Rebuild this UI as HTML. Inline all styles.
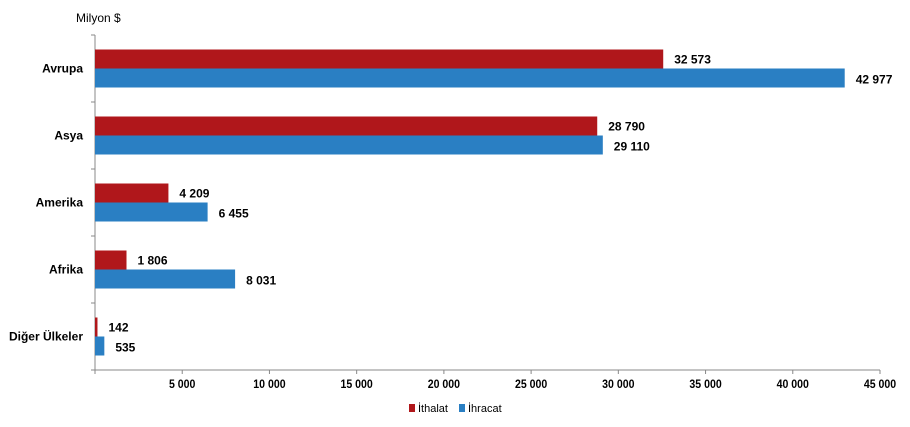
<!DOCTYPE html>
<html><head><meta charset="utf-8"><style>
body{margin:0;background:#fff;width:910px;height:422px;overflow:hidden}
text{font-family:"Liberation Sans",Arial,sans-serif}
</style></head><body>
<svg id="c" width="910" height="422" xmlns="http://www.w3.org/2000/svg">
<text x="76" y="22" font-size="12" fill="#000">Milyon $</text>
<g id="plot"></g>
<g>
<rect x="409" y="404" width="6" height="8" fill="#b0171b"/>
<text x="418" y="412" font-size="11">İthalat</text>
<rect x="459" y="404" width="6" height="8" fill="#2a7fc3"/>
<text x="468" y="412" font-size="11">İhracat</text>
</g>
</svg>
<script>
const categories=["Avrupa","Asya","Amerika","Afrika","Diğer Ülkeler"];
const ithalat=[32573,28790,4209,1806,142];
const ihracat=[42977,29110,6455,8031,535];
const ticks=[5000,10000,15000,20000,25000,30000,35000,40000,45000];
const NS="http://www.w3.org/2000/svg";
const g=document.getElementById("plot");
const x0=95,x1=880,xmax=45000,yTop=35,band=67,bh=19;
const X=v=>x0+v/xmax*(x1-x0);
const fmt=v=>String(v).replace(/\B(?=(\d{3})+(?!\d))/g," ");
function el(t,a){const e=document.createElementNS(NS,t);for(const k in a)e.setAttribute(k,a[k]);g.appendChild(e);return e;}
const yBot=yTop+band*categories.length;
let ax=el("line",{x1:x0,y1:yTop,x2:x0,y2:yBot,stroke:"#888"});


let bx=el("line",{x1:x0,y1:yBot,x2:x1,y2:yBot,stroke:"#888"});


for(let i=0;i<=categories.length;i++){
  let t=el("line",{x1:x0-4,y1:yTop+i*band,x2:x0,y2:yTop+i*band,stroke:"#888"});
  
  
}
let t0=el("line",{x1:x0,y1:yBot,x2:x0,y2:yBot+4,stroke:"#888"});


ticks.forEach(v=>{
  let t=el("line",{x1:X(v),y1:yBot,x2:X(v),y2:yBot+4,stroke:"#888"});
  
  
  let l=el("text",{x:X(v),y:yBot+18,"font-size":"12","text-anchor":"middle","font-weight":"bold",transform:`translate(${X(v)*0.12},0) scale(0.88,1)`});
  l.textContent=fmt(v);
  
  
});
categories.forEach((c,i)=>{
  const cy=yTop+i*band+band/2;
  let l=el("text",{x:83,y:cy+4,"font-size":"12","font-weight":"bold","text-anchor":"end"});
  l.textContent=c;
  
  
  let r1=el("rect",{x:x0,y:cy-bh,width:X(ithalat[i])-x0,height:bh,fill:"#b0171b"});
  
  
  let r2=el("rect",{x:x0,y:cy,width:X(ihracat[i])-x0,height:bh,fill:"#2a7fc3"});
  
  
  let v1=el("text",{x:X(ithalat[i])+11,y:cy-5,"font-size":"12","font-weight":"bold"});
  v1.textContent=fmt(ithalat[i]);
  
  
  let v2=el("text",{x:X(ihracat[i])+11,y:cy+15,"font-size":"12","font-weight":"bold"});
  v2.textContent=fmt(ihracat[i]);
  
  
});
</script>
</body></html>
